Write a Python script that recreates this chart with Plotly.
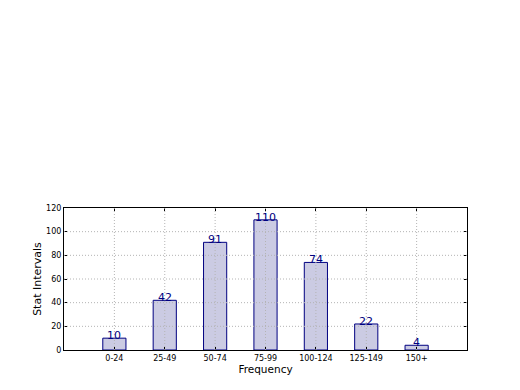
import plotly.graph_objects as go

categories = ["0-24", "25-49", "50-74", "75-99", "100-124", "125-149", "150+"]
values = [10, 42, 91, 110, 74, 22, 4]
y_ticks = [0, 20, 40, 60, 80, 100, 120]

x_pos = list(range(len(categories)))
font = "DejaVu Sans"
navy = "#000080"
grid_col = "#b4b4b4"

fig = go.Figure()
fig.add_trace(go.Bar(
    x=x_pos, y=values, width=0.46,
    marker=dict(color="#cbcbe3", line=dict(color=navy, width=1)),
    hoverinfo="skip",
))

for xi, v in zip(x_pos, values):
    fig.add_annotation(x=xi, y=v, text=str(v), showarrow=False,
                       yanchor="bottom", yshift=-6,
                       font=dict(family=font, size=11, color=navy))

shapes = []
for t in y_ticks[1:-1]:
    shapes.append(dict(type="line", xref="paper", x0=0, x1=1, yref="y", y0=t, y1=t,
                       line=dict(color=grid_col, width=1, dash="1px,2px"), layer="above"))
for xi in x_pos:
    shapes.append(dict(type="line", xref="x", x0=xi, x1=xi, yref="paper", y0=0, y1=1,
                       line=dict(color=grid_col, width=1, dash="1px,2px"), layer="above"))
fig.update_layout(shapes=shapes)

fig.update_layout(
    width=520, height=390,
    margin=dict(l=64, r=53, t=208, b=40),
    paper_bgcolor="white", plot_bgcolor="white",
    showlegend=False,
    font=dict(family=font, color="black"),
    xaxis=dict(
        range=[-1, 7], tickvals=x_pos, ticktext=categories,
        tickfont=dict(size=8, family=font), showgrid=False, zeroline=False,
        showline=True, linecolor="black", linewidth=1, mirror="ticks",
        ticks="inside", ticklen=3, tickcolor="black",
        title=dict(text="Frequency", font=dict(size=10.5, family=font), standoff=3),
    ),
    yaxis=dict(
        range=[0, 120], tickvals=y_ticks,
        tickfont=dict(size=8, family=font), showgrid=False, zeroline=False,
        showline=True, linecolor="black", linewidth=1, mirror="ticks",
        ticks="inside", ticklen=3, tickcolor="black",
        title=dict(text="Stat Intervals", font=dict(size=11, family=font), standoff=2),
    ),
)

fig.write_html("out.html")
